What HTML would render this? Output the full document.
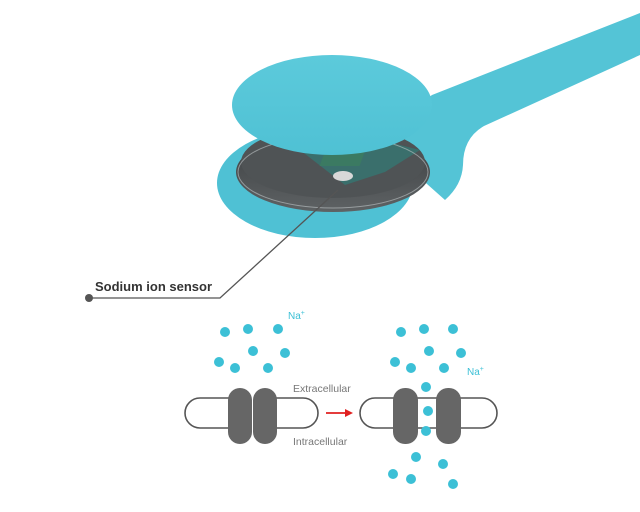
<!DOCTYPE html>
<html><head><meta charset="utf-8"><style>
html,body{margin:0;padding:0;background:#fff;}
svg{display:block;}
text{font-family:"Liberation Sans",sans-serif;}
</style></head><body>
<svg width="640" height="512" viewBox="0 0 640 512" xmlns="http://www.w3.org/2000/svg">
<defs>
<linearGradient id="cv" x1="0" y1="0" x2="0" y2="1"><stop offset="0" stop-color="#5ccadb"/><stop offset="1" stop-color="#4fc1d4"/></linearGradient>
<linearGradient id="pk" x1="0" y1="0" x2="0" y2="1"><stop offset="0" stop-color="#3a3d3f"/><stop offset="1" stop-color="#5e6264"/></linearGradient>
</defs>
<!-- strap -->
<path d="M405,115 L432,95 L640,13 L640,55 L484,126 Q463,138 463,165 Q462,185 445,200 L400,160 Z" fill="#54c4d6"/>
<!-- base disc -->
<ellipse cx="315" cy="183" rx="98" ry="55" fill="#4fc1d4"/>
<!-- puck -->
<ellipse cx="333" cy="172" rx="97" ry="40" fill="url(#pk)"/>
<ellipse cx="333" cy="162" rx="92" ry="36" fill="#4f5355"/>
<path d="M300,150 L345,185 L385,172 L420,150 L380,140 Z" fill="#3a6f6c"/>
<rect x="380" y="150" width="40" height="16" fill="#3b7a62" transform="skewX(-20)"/>
<ellipse cx="343" cy="176" rx="10" ry="5" fill="#d8d8d8"/>
<ellipse cx="333" cy="172" rx="95" ry="36" fill="none" stroke="#bfc6c8" stroke-width="1" opacity="0.6"/>
<!-- cover -->
<ellipse cx="332" cy="105" rx="100" ry="50" fill="url(#cv)"/>
<!-- leader -->
<polyline points="88,298 220,298 338,190" fill="none" stroke="#555" stroke-width="1.3"/>
<circle cx="89" cy="298" r="4" fill="#555"/>
<text x="95" y="291" font-size="13" font-weight="bold" fill="#333">Sodium ion sensor</text>
<g fill="none" stroke="#555" stroke-width="1.6">
<path d="M230,398 L200,398 A15,15 0 0 0 200,428 L230,428"/>
<path d="M275,398 L303,398 A15,15 0 0 1 303,428 L275,428"/>
<path d="M395,398 L375,398 A15,15 0 0 0 375,428 L395,428"/>
<path d="M458,398 L482,398 A15,15 0 0 1 482,428 L458,428"/>
<path d="M416,398 L439,398 M416,428 L439,428"/>
</g>
<g fill="#666">
<rect x="228" y="388" width="24" height="56" rx="12"/>
<rect x="253" y="388" width="24" height="56" rx="12"/>
<rect x="393" y="388" width="25" height="56" rx="12"/>
<rect x="436" y="388" width="25" height="56" rx="12"/>
</g>
<line x1="326" y1="413" x2="347" y2="413" stroke="#e02020" stroke-width="1.8"/>
<polygon points="353,413 345,409 345,417" fill="#e02020"/>
<text x="293" y="392" font-size="10.5" fill="#777">Extracellular</text>
<text x="293" y="445" font-size="10.5" fill="#777">Intracellular</text>
<text x="288" y="319" font-size="10" fill="#3cc0d6">Na<tspan font-size="7" dy="-4">+</tspan></text>
<text x="467" y="375" font-size="10" fill="#3cc0d6">Na<tspan font-size="7" dy="-4">+</tspan></text>
<g fill="#3cc0d6">
<circle cx="225" cy="332" r="5"/><circle cx="248" cy="329" r="5"/><circle cx="278" cy="329" r="5"/>
<circle cx="253" cy="351" r="5"/><circle cx="285" cy="353" r="5"/><circle cx="219" cy="362" r="5"/>
<circle cx="235" cy="368" r="5"/><circle cx="268" cy="368" r="5"/>
<circle cx="401" cy="332" r="5"/><circle cx="424" cy="329" r="5"/><circle cx="453" cy="329" r="5"/>
<circle cx="429" cy="351" r="5"/><circle cx="461" cy="353" r="5"/><circle cx="395" cy="362" r="5"/>
<circle cx="411" cy="368" r="5"/><circle cx="444" cy="368" r="5"/><circle cx="426" cy="387" r="5"/>
<circle cx="428" cy="411" r="5"/><circle cx="426" cy="431" r="5"/><circle cx="416" cy="457" r="5"/>
<circle cx="443" cy="464" r="5"/><circle cx="393" cy="474" r="5"/><circle cx="411" cy="479" r="5"/>
<circle cx="453" cy="484" r="5"/>
</g>
</svg>
</body></html>
